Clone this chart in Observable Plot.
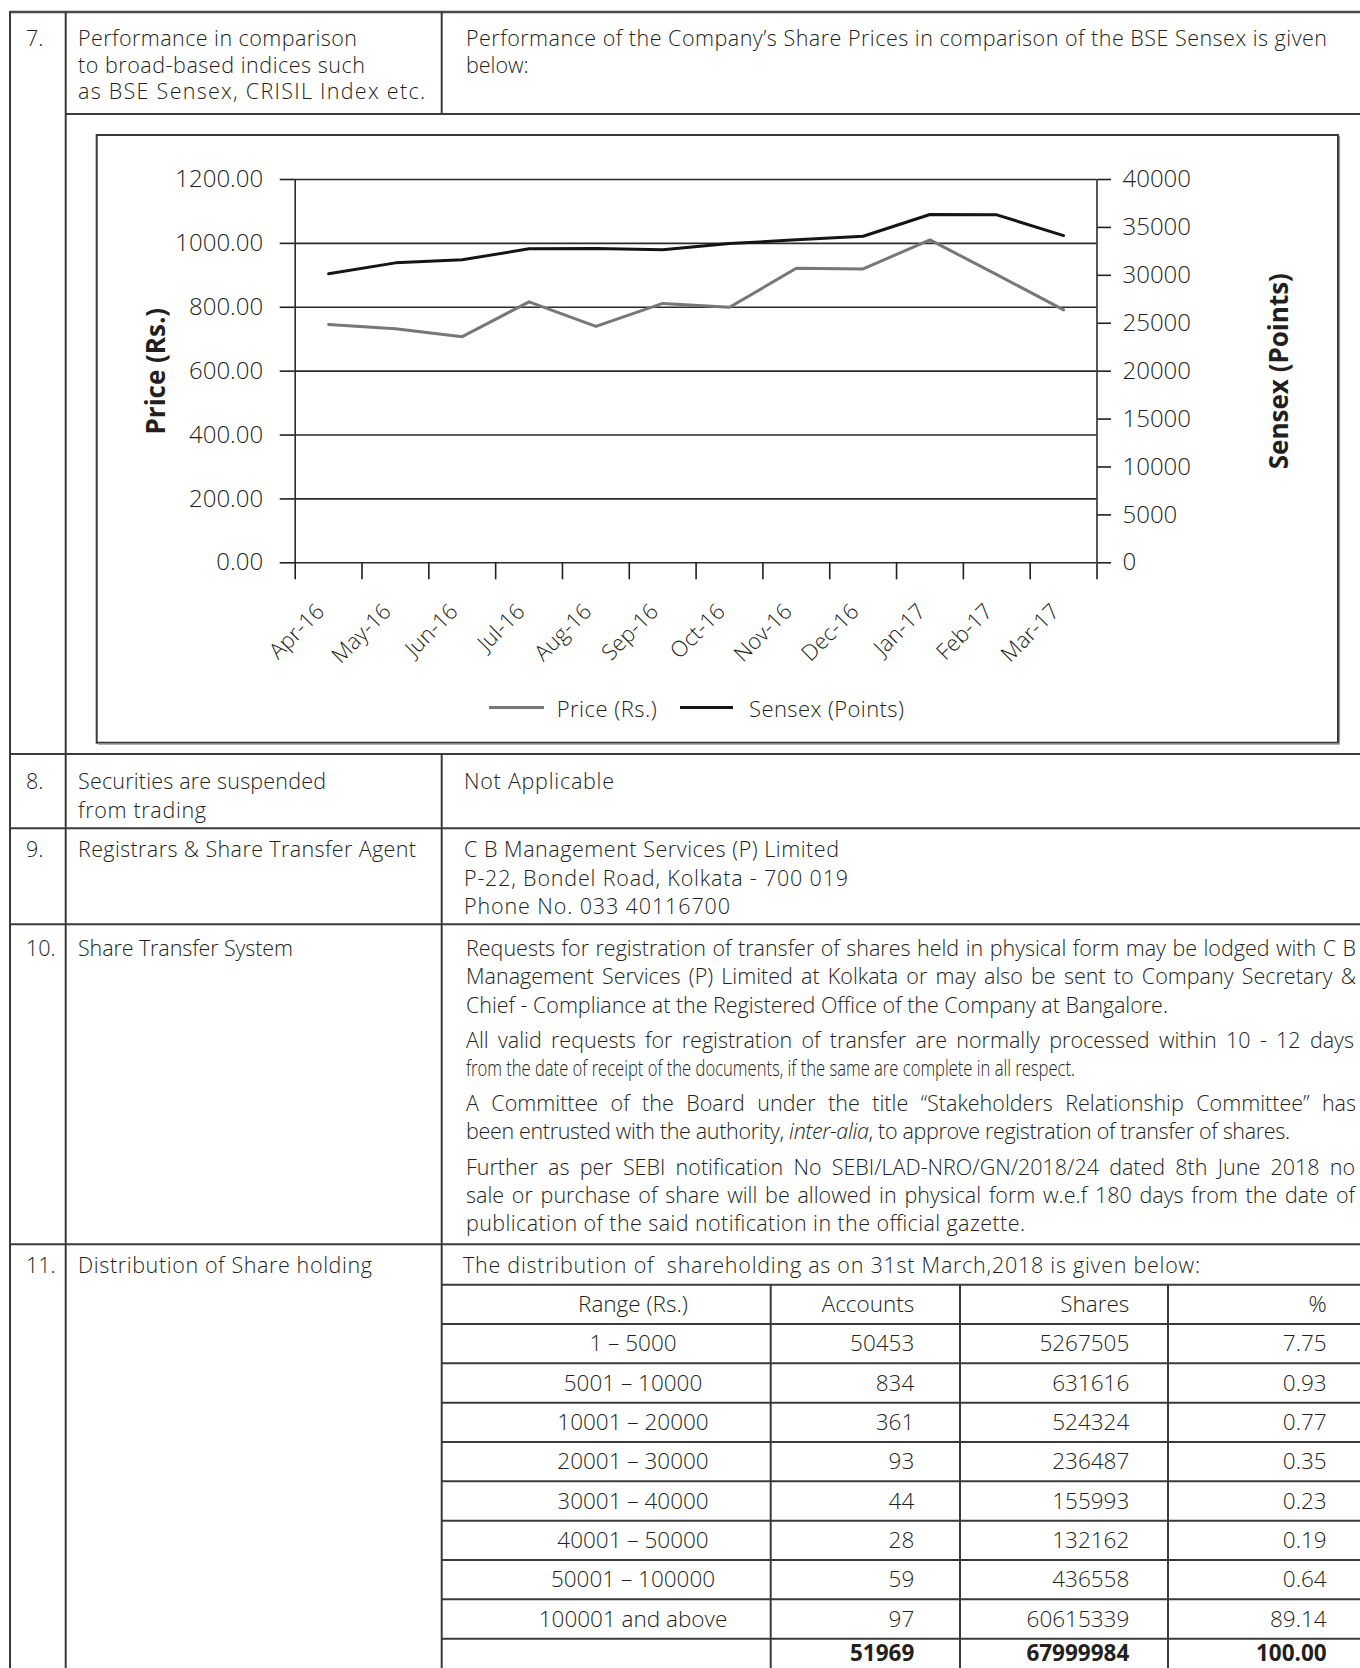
<!DOCTYPE html>
<html><head><meta charset="utf-8">
<script src="https://cdn.jsdelivr.net/npm/d3@7"></script>
<script src="https://cdn.jsdelivr.net/npm/@observablehq/plot@0.6"></script>
<style>
html,body{margin:0;padding:0;background:#fff;}
#page{position:relative;width:1360px;height:1668px;overflow:hidden;font-family:"Open Sans",sans-serif;color:#231f20;}
#overlay{position:absolute;left:0;top:0;}
#chart{position:absolute;left:97px;top:135px;}
</style></head>
<body><div id="page"><svg id="overlay" width="1360" height="1668" xmlns="http://www.w3.org/2000/svg"></svg><div id="chart"></div></div>
<script>
// ---- chart data ----
const months = ["Apr-16","May-16","Jun-16","Jul-16","Aug-16","Sep-16","Oct-16","Nov-16","Dec-16","Jan-17","Feb-17","Mar-17"];
const price = [746, 733, 708, 817, 740, 812, 800, 922, 920, 1011, 902, 792];
const sensex = [30160, 31300, 31620, 32770, 32800, 32660, 33320, 33700, 34080, 36350, 36310, 34150];
const priceTicks = [0, 200, 400, 600, 800, 1000, 1200];
const sensexTicks = [0, 5000, 10000, 15000, 20000, 25000, 30000, 35000, 40000];
const legendLabels = ["Price (Rs.)", "Sensex (Points)"];

// ---- distribution table ----
const ranges = ["1 – 5000","5001 – 10000","10001 – 20000","20001 – 30000","30001 – 40000","40001 – 50000","50001 – 100000","100001 and above"];
const accounts = ["50453","834","361","93","44","28","59","97"];
const shares = ["5267505","631616","524324","236487","155993","132162","436558","60615339"];
const pct = ["7.75","0.93","0.77","0.35","0.23","0.19","0.64","89.14"];
const totals = ["51969","67999984","100.00"];

const k = 1200 / 40000;
const data = months.map((m, i) => ({i, month: m, price: price[i], sensex: sensex[i]}));
const boundaries = d3.range(13).map(i => i - 0.5);

const chart = Plot.plot({
  width: 1241, height: 607,
  marginLeft: 197.7, marginRight: 241.5, marginTop: 44, marginBottom: 179.7,
  x: {type: "linear", domain: [-0.5, 11.5], label: null},
  y: {domain: [0, 1200], label: null},
  style: {fontFamily: '"Open Sans", sans-serif', color: "#231f20", background: "transparent", overflow: "visible"},
  marks: [
    Plot.ruleY(priceTicks, {stroke: "#2b2b2b", strokeWidth: 1.6}),
    Plot.ruleX([-0.5, 11.5], {stroke: "#2b2b2b", strokeWidth: 1.6}),
    Plot.axisY(priceTicks, {anchor: "left", tickSize: 15, tickPadding: 17, tickFormat: d => d.toFixed(2), fontSize: 24, fontWeight: 300, strokeWidth: 1.6, label: null}),
    Plot.axisY(sensexTicks.map(v => v * k), {anchor: "right", tickSize: 13.5, tickPadding: 12, tickFormat: d => String(Math.round(d / k)), fontSize: 24, fontWeight: 300, strokeWidth: 1.6, label: null}),
    Plot.axisX(boundaries, {anchor: "bottom", tickSize: 17, tickFormat: () => "", strokeWidth: 1.6, label: null}),
    Plot.text(data, {x: "i", text: "month", frameAnchor: "bottom", rotate: -45, textAnchor: "end", dx: -3, dy: 50, fontSize: 22, fontWeight: 300}),
    Plot.line(data, {x: "i", y: "price", stroke: "#777", strokeWidth: 3}),
    Plot.line(data, {x: "i", y: d => d.sensex * k, stroke: "#151515", strokeWidth: 3}),
    Plot.text(["Price (Rs.)"], {frameAnchor: "left", textAnchor: "middle", dx: -139, rotate: -90, fontSize: 26, fontWeight: "bold"}),
    Plot.text(["Sensex (Points)"], {frameAnchor: "right", textAnchor: "middle", dx: 182.5, rotate: -90, fontSize: 26, fontWeight: "bold"})
  ]
});
document.getElementById("chart").appendChild(chart);

// ---- page overlay (table frame + text) ----
const NS = "http://www.w3.org/2000/svg";
const ov = document.getElementById("overlay");
function L(x1, y1, x2, y2, w = 2, c = "#3a3a3a") {
  const e = document.createElementNS(NS, "line");
  e.setAttribute("x1", x1); e.setAttribute("y1", y1); e.setAttribute("x2", x2); e.setAttribute("y2", y2);
  e.setAttribute("stroke", c); e.setAttribute("stroke-width", w);
  ov.appendChild(e);
}
function T(o) {
  const e = document.createElementNS(NS, "text");
  e.setAttribute("x", o.x); e.setAttribute("y", o.y);
  e.setAttribute("font-family", '"Open Sans", sans-serif');
  e.setAttribute("font-size", o.size || 21.5);
  e.setAttribute("font-weight", o.bold ? "bold" : 300);
  e.setAttribute("fill", "#231f20");
  e.style.whiteSpace = "pre";
  if (o.anchor) e.setAttribute("text-anchor", o.anchor);
  if (o.parts) {
    o.parts.forEach(p => {
      const s = document.createElementNS(NS, "tspan");
      if (typeof p === "string") s.textContent = p; else { s.textContent = p.i; s.setAttribute("font-style", "italic"); }
      e.appendChild(s);
    });
  } else e.textContent = o.t;
  ov.appendChild(e);
  const nat = e.getComputedTextLength();
  if (o.w) {
    e.setAttribute("textLength", o.w);
    e.setAttribute("lengthAdjust", nat > o.w * 1.04 ? "spacingAndGlyphs" : "spacing");
  }
  if (o.j) {
    const sp = (e.textContent.match(/ /g) || []).length;
    if (nat < o.j) e.setAttribute("word-spacing", (o.j - nat) / sp);
    else { e.setAttribute("textLength", o.j); e.setAttribute("lengthAdjust", "spacingAndGlyphs"); }
  }
  return e;
}

// frame lines
L(10, 12, 1360, 12, 2.5, "#4a4a4a");
L(10, 11, 10, 1668); L(65.7, 11, 65.7, 1668);
L(441.7, 11, 441.7, 114); L(441.7, 754, 441.7, 1668);
L(65.7, 114, 1360, 114);
[754, 828.3, 924.3, 1244.3].forEach(y => L(10, y, 1360, y));
// chart box
const box = document.createElementNS(NS, "rect");
box.setAttribute("x", 96.7); box.setAttribute("y", 135); box.setAttribute("width", 1241.3); box.setAttribute("height", 607.7);
box.setAttribute("fill", "none"); box.setAttribute("stroke", "#3a3a3a"); box.setAttribute("stroke-width", 2);
ov.appendChild(box);
L(98, 744.2, 1339.5, 744.2, 1.2, "#999"); L(1339.5, 136, 1339.5, 744.2, 1.2, "#999");

// legend
L(489, 707.5, 544, 707.5, 3, "#777");
T({t: legendLabels[0], x: 556.7, y: 717, size: 22, w: 100});
L(680, 707.5, 733, 707.5, 3, "#151515");
T({t: legendLabels[1], x: 749, y: 717, size: 22, w: 155});

// row 7
T({t: "7.", x: 26, y: 46});
T({t: "Performance in comparison", x: 78, y: 46, w: 279});
T({t: "to broad-based indices such", x: 78, y: 72.5, w: 287});
T({t: "as BSE Sensex, CRISIL Index etc.", x: 78, y: 99, w: 347});
T({t: "Performance of the Company’s Share Prices in comparison of the BSE Sensex is given", x: 466, y: 46, w: 861});
T({t: "below:", x: 466, y: 72.5});
// row 8
T({t: "8.", x: 26, y: 789});
T({t: "Securities are suspended", x: 78, y: 789, w: 248});
T({t: "from trading", x: 78, y: 818, w: 128});
T({t: "Not Applicable", x: 464, y: 789, w: 150});
// row 9
T({t: "9.", x: 26, y: 857});
T({t: "Registrars & Share Transfer Agent", x: 78, y: 857, w: 338});
T({t: "C B Management Services (P) Limited", x: 464, y: 857, w: 375});
T({t: "P-22, Bondel Road, Kolkata - 700 019", x: 464, y: 885.7, w: 384});
T({t: "Phone No. 033 40116700", x: 464, y: 914.3, w: 266});
// row 10
T({t: "10.", x: 26, y: 956});
T({t: "Share Transfer System", x: 78, y: 956, w: 215});
T({t: "Requests for registration of transfer of shares held in physical form may be lodged with C B", x: 466, y: 956, j: 890});
T({t: "Management Services (P) Limited at Kolkata or may also be sent to Company Secretary &", x: 466, y: 984.3, j: 890});
T({t: "Chief - Compliance at the Registered Office of the Company at Bangalore.", x: 466, y: 1012.7, w: 702});
T({t: "All valid requests for registration of transfer are normally processed within 10 - 12 days", x: 466, y: 1048.3, j: 888});
T({t: "from the date of receipt of the documents, if the same are complete in all respect.", x: 466, y: 1076, w: 609});
T({t: "A Committee of the Board under the title “Stakeholders Relationship Committee” has", x: 466, y: 1110.7, j: 890});
T({parts: ["been entrusted with the authority, ", {i: "inter-alia"}, ", to approve registration of transfer of shares."], x: 466, y: 1139.3, w: 824});
T({t: "Further as per SEBI notification No SEBI/LAD-NRO/GN/2018/24 dated 8th June 2018 no", x: 466, y: 1175, j: 889});
T({t: "sale or purchase of share will be allowed in physical form w.e.f 180 days from the date of", x: 466, y: 1203.3, j: 889});
T({t: "publication of the said notification in the official gazette.", x: 466, y: 1231.3, w: 559});
// row 11
T({t: "11.", x: 26, y: 1273});
T({t: "Distribution of Share holding", x: 78, y: 1273, w: 294});
T({t: "The distribution of  shareholding as on 31st March,2018 is given below:", x: 463, y: 1273, w: 737});

// sub table
const top0 = 1284.7, rh = 39.33;
for (let r = 0; r <= 9; r++) L(441.7, top0 + r * rh, 1360, top0 + r * rh);
[770.7, 960, 1168].forEach(x => L(x, top0, x, 1668));
const hdr = ["Range (Rs.)", "Accounts", "Shares", "%"];
const cx = [633, 914.3, 1129.3, 1326.7];
const anc = ["middle", "end", "end", "end"];
hdr.forEach((h, c) => T({t: h, x: cx[c], y: top0 + 27.3, size: 22.5, anchor: anc[c]}));
ranges.forEach((rg, r) => {
  const y = top0 + (r + 1) * rh + 27.3;
  [rg, accounts[r], shares[r], pct[r]].forEach((v, c) => T({t: v, x: cx[c], y, size: 22.5, anchor: anc[c]}));
});
totals.forEach((v, c) => T({t: v, x: cx[c + 1], y: 1661, size: 22.5, anchor: "end", bold: true}));
</script>
</body></html>
